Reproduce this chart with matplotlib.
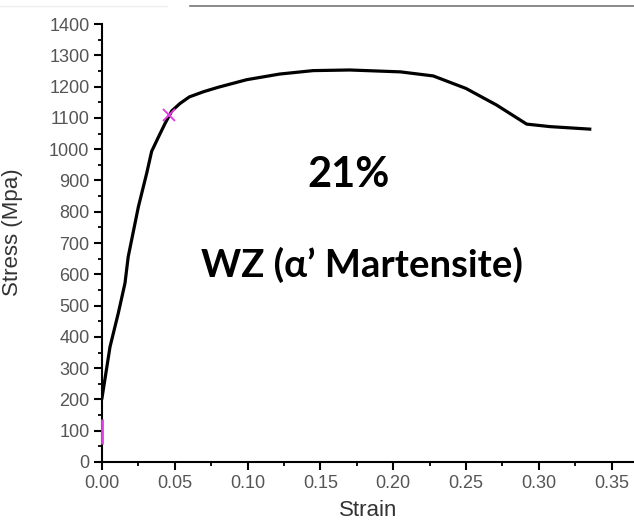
import matplotlib
matplotlib.use("Agg")
from matplotlib import pyplot as plt
from matplotlib.lines import Line2D
from matplotlib.ticker import MultipleLocator, FormatStrFormatter

# stress-strain curve
strain = [0.000, 0.0055, 0.0112, 0.0158, 0.018, 0.025, 0.0307, 0.0341, 0.0387,
          0.0433, 0.0479, 0.0536, 0.060, 0.070, 0.080, 0.0994, 0.122, 0.145,
          0.170, 0.205, 0.2275, 0.250, 0.271, 0.2917, 0.3077, 0.335]
stress = [205, 368, 476, 572, 656, 816, 923, 993, 1038,
          1082, 1122, 1146, 1167, 1184, 1198, 1222, 1240, 1251,
          1253, 1247, 1234, 1194, 1141, 1080, 1072, 1064]

mark_x = [0.0, 0.046]
mark_y = [100, 1110]

title_pct = "21%"
title_zone = "WZ (α’ Martensite)"

fig = plt.figure(figsize=(6.34, 5.29), dpi=100)
ax = fig.add_axes([102 / 634, 1 - 462 / 529, 1 - 102 / 634, (462 - 24) / 529])

ax.plot(strain, stress, color="black", lw=2.3, solid_joinstyle="round", zorder=3)
ax.plot(mark_x[:1], mark_y[:1], marker="|", ms=18, mew=2.0, color="#e040e0",
        ls="none", clip_on=False, zorder=4)
ax.plot(mark_x[1:], mark_y[1:], marker="x", ms=8, mew=1.4, color="#e040e0",
        ls="none", zorder=4)

ax.set_xlim(0, 0.3654)
ax.set_ylim(0, 1400)
ax.xaxis.set_major_locator(MultipleLocator(0.05))
ax.xaxis.set_minor_locator(MultipleLocator(0.025))
ax.xaxis.set_major_formatter(FormatStrFormatter("%.2f"))
ax.yaxis.set_major_locator(MultipleLocator(100))
ax.yaxis.set_minor_locator(MultipleLocator(50))

for side in ("top", "right"):
    ax.spines[side].set_visible(False)
for side in ("left", "bottom"):
    ax.spines[side].set_linewidth(1.5)

ax.tick_params(which="major", direction="out", length=6, width=1.5,
               labelsize=13, labelcolor="#555555", pad=3)
ax.tick_params(which="minor", direction="out", length=3, width=1.3)
for lab in ax.get_xticklabels() + ax.get_yticklabels():
    lab.set_family("Liberation Sans")

ax.set_xlabel("Strain", fontsize=16, family="Liberation Sans", color="#333333",
              labelpad=6)
fig.text(13 / 634, 1 - 232 / 529, "Stress (Mpa)", rotation=90, fontsize=16,
         family="Liberation Sans", color="#333333", ha="center", va="center")

fig.text(349 / 634, 1 - 175 / 529, title_pct, fontsize=30, fontweight="bold",
         family="Lato", ha="center", va="center")
fig.text(362 / 634, 1 - 265 / 529, title_zone, fontsize=27.5, fontweight="bold",
         family=["Lato", "DejaVu Sans"], ha="center", va="center")

# cropped frame edge at the top of the picture
fig.add_artist(Line2D([190 / 634, 1], [1 - 6 / 529] * 2, color="#777777", lw=1.2))
fig.add_artist(Line2D([0, 167 / 634], [1 - 6 / 529] * 2, color="#eeeeee", lw=1.0))

fig.savefig("out.png", dpi=100)
